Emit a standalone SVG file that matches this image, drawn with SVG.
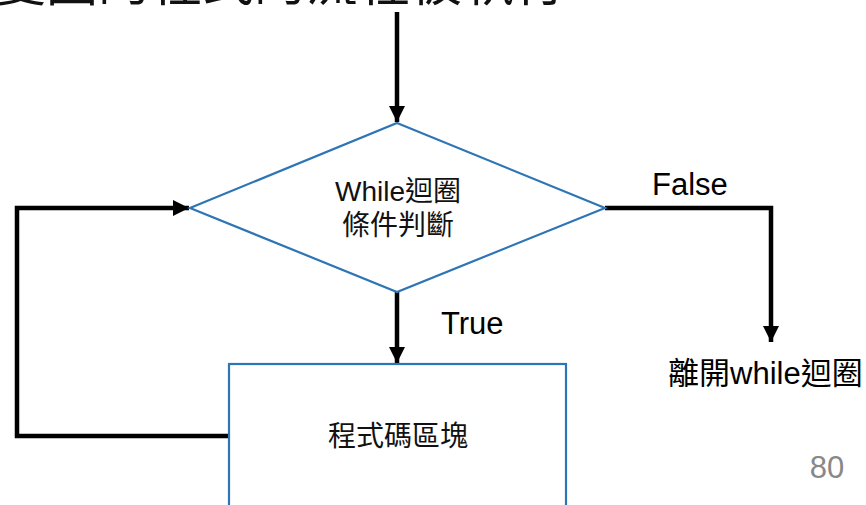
<svg xmlns="http://www.w3.org/2000/svg" width="866" height="505" viewBox="0 0 866 505">
<style>
.cjk{font-family:"Liberation Sans","Noto Sans CJK TC",sans-serif;fill:#111}
.lbl{font-family:"Liberation Sans","Noto Sans CJK TC",sans-serif;fill:#000}
.shape{fill:#fff;stroke:#2E75B6;stroke-width:2.2}
.conn{fill:none;stroke:#000;stroke-width:4.5}
</style>
<defs>
<marker id="ah" markerUnits="userSpaceOnUse" markerWidth="16" markerHeight="16" viewBox="0 0 16 16" refX="16" refY="8" orient="auto">
<path d="M0,0 L16,8 L0,16 Z" fill="#000"/>
</marker>
</defs>
<rect width="866" height="505" fill="#fff"/>
<text class="cjk" x="-6" y="1" font-size="52">變圖的程式的流程被執行</text>
<g id="connectors">
<path class="conn" d="M397,12 V122" marker-end="url(#ah)"/>
<path class="conn" d="M605,208 H771 V342" marker-end="url(#ah)"/>
<path class="conn" d="M397,292 V363" marker-end="url(#ah)"/>
<path class="conn" d="M229,436 H17 V208 H189" marker-end="url(#ah)"/>
</g>
<g id="decision">
<polygon class="shape" points="397,123 605,208 397,292 190,208"/>
<text class="cjk" x="398" y="201" font-size="28" text-anchor="middle">While迴圈</text>
<text class="cjk" x="398" y="235" font-size="28" text-anchor="middle">條件判斷</text>
</g>
<g id="block">
<rect class="shape" x="229" y="364" width="337" height="160"/>
<text class="cjk" x="398" y="446" font-size="28" text-anchor="middle">程式碼區塊</text>
</g>
<g id="exit">
<text class="lbl" x="668" y="384" font-size="31">離開while迴圈</text>
</g>
<text class="lbl" x="652" y="195" font-size="31">False</text>
<text class="lbl" x="441" y="334" font-size="31">True</text>
<text x="827" y="478" font-size="31" fill="#888" text-anchor="middle" font-family="'Liberation Sans',sans-serif">80</text>
</svg>
